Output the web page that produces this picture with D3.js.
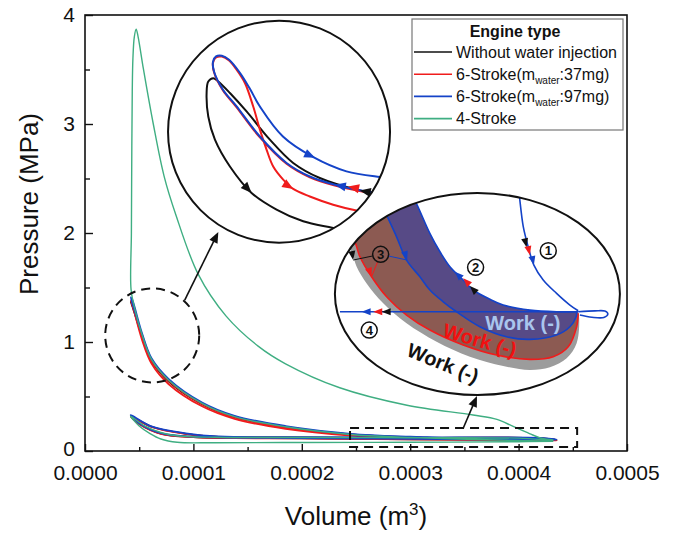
<!DOCTYPE html>
<html>
<head>
<meta charset="utf-8">
<script src="https://cdn.jsdelivr.net/npm/d3@7"></script>
<style>
  body { margin: 0; background: #fff; }
  svg { display: block; font-family: "Liberation Sans", Arial, sans-serif; }
</style>
</head>
<body>
<div id="chart"></div>
<script>
/// DATA (volume in m3, pressure in MPa)

const xTicks = [0, 0.0001, 0.0002, 0.0003, 0.0004, 0.0005]
const xMinorTicks = [0.00005, 0.00015, 0.00025, 0.00035, 0.00045]
const yTicks = [0, 1, 2, 3, 4]
const yMinorTicks = [0.5, 1.5, 2.5, 3.5]

const legendItems = [
  { key: "noWater", text: "Without water injection" },
  { key: "water37", text: "6-Stroke(m", sub: "water", tail: ":37mg)" },
  { key: "water97", text: "6-Stroke(m", sub: "water", tail: ":97mg)" },
  { key: "fourStroke", text: "4-Stroke" },
]

const fourStroke = [
  [4.32e-4, 0.09], [3.6e-4, 0.105], [3.0e-4, 0.125], [2.45e-4, 0.152], [1.85e-4, 0.222],
  [1.38e-4, 0.315], [1.08e-4, 0.437], [7.7e-5, 0.652], [6.15e-5, 0.838], [5.23e-5, 1.078],
  [4.6e-5, 1.3], [4.25e-5, 1.48], [4.28e-5, 2.0], [4.32e-5, 2.8], [4.36e-5, 3.3],
  [4.42e-5, 3.6], [4.55e-5, 3.8], [4.72e-5, 3.87], [4.9e-5, 3.8], [5.38e-5, 3.51],
  [6.3e-5, 3.0], [7.3e-5, 2.52], [8.37e-5, 2.17], [1.045e-4, 1.62], [1.3e-4, 1.24],
  [1.6e-4, 0.96], [1.85e-4, 0.8], [2.35e-4, 0.58], [2.97e-4, 0.42], [3.58e-4, 0.33],
  [3.8e-4, 0.29], [3.95e-4, 0.225], [4.1e-4, 0.16], [4.2e-4, 0.12], [4.32e-4, 0.1],
  [4.0e-4, 0.118], [3.0e-4, 0.122], [2.0e-4, 0.124], [1.2e-4, 0.126], [8.5e-5, 0.14],
  [7.0e-5, 0.17], [5.5e-5, 0.23], [4.2e-5, 0.32], [5.0e-5, 0.23], [6.0e-5, 0.16],
  [7.0e-5, 0.11], [8.5e-5, 0.08], [1.2e-4, 0.076], [2.0e-4, 0.078], [3.0e-4, 0.08],
  [4.0e-4, 0.085], [4.32e-4, 0.09],
]

const noWater = [
  [4.35e-4, 0.1], [3.6e-4, 0.112], [3.0e-4, 0.126], [2.45e-4, 0.152], [1.85e-4, 0.221],
  [1.38e-4, 0.315], [1.08e-4, 0.435], [7.7e-5, 0.65], [6.15e-5, 0.835], [5.23e-5, 1.07],
  [4.6e-5, 1.26], [4.22e-5, 1.37], [4.3e-5, 1.35], [5.23e-5, 1.06], [6.15e-5, 0.825],
  [7.7e-5, 0.64], [1.08e-4, 0.43], [1.38e-4, 0.31], [1.85e-4, 0.216], [2.45e-4, 0.148],
  [3.0e-4, 0.122], [3.6e-4, 0.108], [4.35e-4, 0.1], [4.2e-4, 0.117], [3.0e-4, 0.12],
  [1.85e-4, 0.124], [1.23e-4, 0.13], [9.3e-5, 0.158], [6.2e-5, 0.22], [4.22e-5, 0.32],
  [5.0e-5, 0.25], [7.0e-5, 0.16], [1.0e-4, 0.128], [2.0e-4, 0.116], [3.0e-4, 0.108],
  [4.35e-4, 0.1],
]

const water37 = [
  [4.35e-4, 0.098], [3.6e-4, 0.11], [3.0e-4, 0.124], [2.45e-4, 0.15], [1.85e-4, 0.219],
  [1.38e-4, 0.312], [1.08e-4, 0.432], [7.7e-5, 0.647], [6.15e-5, 0.832], [5.23e-5, 1.068],
  [4.6e-5, 1.26], [4.22e-5, 1.38], [4.4e-5, 1.33], [5.23e-5, 1.03], [6.15e-5, 0.8],
  [7.7e-5, 0.615], [1.08e-4, 0.41], [1.38e-4, 0.295], [1.85e-4, 0.204], [2.45e-4, 0.142],
  [3.0e-4, 0.117], [3.6e-4, 0.104], [4.35e-4, 0.098], [4.2e-4, 0.116], [3.0e-4, 0.119],
  [1.85e-4, 0.123], [1.23e-4, 0.129], [9.3e-5, 0.157], [6.2e-5, 0.219], [4.22e-5, 0.32],
  [5.0e-5, 0.248], [7.0e-5, 0.158], [1.0e-4, 0.127], [2.0e-4, 0.115], [3.0e-4, 0.107],
  [4.35e-4, 0.098],
]

const water97 = [
  [4.35e-4, 0.104], [3.6e-4, 0.116], [3.0e-4, 0.131], [2.45e-4, 0.157], [1.85e-4, 0.227],
  [1.38e-4, 0.321], [1.08e-4, 0.442], [7.7e-5, 0.658], [6.15e-5, 0.843], [5.23e-5, 1.085],
  [4.6e-5, 1.28], [4.22e-5, 1.41], [4.35e-5, 1.39], [5.23e-5, 1.09], [6.15e-5, 0.848],
  [7.7e-5, 0.662], [1.08e-4, 0.445], [1.38e-4, 0.323], [1.85e-4, 0.229], [2.45e-4, 0.158],
  [3.0e-4, 0.131], [3.6e-4, 0.115], [4.35e-4, 0.104], [4.2e-4, 0.12], [3.0e-4, 0.123],
  [1.85e-4, 0.127], [1.23e-4, 0.133], [9.3e-5, 0.162], [6.2e-5, 0.223], [4.22e-5, 0.33],
  [5.0e-5, 0.255], [7.0e-5, 0.163], [1.0e-4, 0.131], [2.0e-4, 0.119], [3.0e-4, 0.111],
  [4.35e-4, 0.104],
]

// zoom markers in the main axes
const zoomCircleCentre = [6.2e-5, 1.06]
const zoomRect = [[2.445e-4, 0.037], [4.54e-4, 0.21]]
const pointerArrows = [
  [[9.2e-5, 1.385], [1.23e-4, 2.01]],
  [[3.49e-4, 0.211], [3.616e-4, 0.505]],
]
const inset1Centre = [1.79e-4, 2.93]
const inset2Centre = [3.62e-4, 1.44]

// inset 1: close-up of the top dead centre
const inset1Domain = { v: [2e-5, 1e-4], p: [0.6, 1.6] }
const inset1Blue = [
  [1.035e-4, 0.812], [9.38e-5, 0.826], [8.01e-5, 0.861], [7.11e-5, 0.898], [6.27e-5, 0.959],
  [5.31e-5, 1.078], [4.45e-5, 1.217], [3.98e-5, 1.289], [3.66e-5, 1.37], [3.62e-5, 1.415],
  [3.73e-5, 1.439], [3.94e-5, 1.442], [4.2e-5, 1.424], [4.59e-5, 1.365], [4.95e-5, 1.293],
  [5.31e-5, 1.213], [6.14e-5, 1.078], [7.22e-5, 0.986], [8.43e-5, 0.921], [9.63e-5, 0.896],
  [1.035e-4, 0.888],
]
const inset1Red = [
  [1.035e-4, 0.808], [9.38e-5, 0.822], [8.01e-5, 0.857], [7.11e-5, 0.894], [6.27e-5, 0.955],
  [5.31e-5, 1.074], [4.45e-5, 1.213], [3.98e-5, 1.285], [3.66e-5, 1.366], [3.62e-5, 1.41],
  [3.73e-5, 1.434], [3.94e-5, 1.438], [4.2e-5, 1.42], [4.47e-5, 1.379], [4.77e-5, 1.319],
  [5.07e-5, 1.213], [5.31e-5, 1.109], [5.55e-5, 1.019], [5.79e-5, 0.943], [6.15e-5, 0.884],
  [6.51e-5, 0.842], [7.11e-5, 0.808], [7.95e-5, 0.771], [8.79e-5, 0.745], [1.035e-4, 0.713],
]
const inset1Black = [
  [1.035e-4, 0.805], [8.91e-5, 0.835], [7.47e-5, 0.891], [6.51e-5, 0.959], [5.67e-5, 1.064],
  [4.83e-5, 1.191], [4.23e-5, 1.274], [3.81e-5, 1.326], [3.63e-5, 1.341], [3.45e-5, 1.326],
  [3.39e-5, 1.274], [3.45e-5, 1.168], [3.69e-5, 1.064], [4.23e-5, 0.943], [5.01e-5, 0.824],
  [5.91e-5, 0.749], [6.87e-5, 0.696], [7.95e-5, 0.666], [9.63e-5, 0.623],
]
const inset1Arrows = [
  { key: "water97", tail: [6.9e-5, 1.005], head: [7.3e-5, 0.982] },
  { key: "water97", tail: [8.5e-5, 0.848], head: [8.01e-5, 0.861] },
  { key: "water37", tail: [8.9e-5, 0.842], head: [8.49e-5, 0.853] },
  { key: "noWater", tail: [9.3e-5, 0.826], head: [8.91e-5, 0.835] },
  { key: "water37", tail: [6.2e-5, 0.866], head: [6.51e-5, 0.842] },
  { key: "noWater", tail: [4.7e-5, 0.865], head: [5.01e-5, 0.824] },
]

// inset 2: close-up of the bottom dead centre
const inset2Domain = { v: [2.4e-4, 4.6e-4], p: [0.03, 0.21] }
const inset2Compression = [
  [4.266e-4, 0.1042], [4.111e-4, 0.1042], [3.905e-4, 0.1057], [3.699e-4, 0.1102], [3.597e-4, 0.1153],
  [3.468e-4, 0.1236], [3.39e-4, 0.1325], [3.288e-4, 0.1443], [3.211e-4, 0.1577], [3.133e-4, 0.1741],
  [3.035e-4, 0.1993], [2.94e-4, 0.2216],
]
const inset2ExpBlue = [
  [2.747e-4, 0.2037], [2.811e-4, 0.1874], [2.876e-4, 0.171], [2.953e-4, 0.1503], [3.056e-4, 0.1354],
  [3.133e-4, 0.1236], [3.236e-4, 0.1131], [3.339e-4, 0.1042], [3.519e-4, 0.0909], [3.725e-4, 0.0819],
  [3.905e-4, 0.0796], [4.111e-4, 0.0835], [4.214e-4, 0.0909], [4.262e-4, 0.0998], [4.266e-4, 0.1042],
]
const inset2ExpRed = [
  [2.477e-4, 0.1815], [2.554e-4, 0.1666], [2.593e-4, 0.1532], [2.683e-4, 0.1354], [2.799e-4, 0.1176],
  [2.953e-4, 0.1013], [3.133e-4, 0.0879], [3.39e-4, 0.0746], [3.648e-4, 0.0656], [3.905e-4, 0.0618],
  [4.085e-4, 0.0641], [4.201e-4, 0.073], [4.266e-4, 0.0909], [4.278e-4, 0.1028],
]
const inset2ExpBlack = [
  [2.439e-4, 0.1752], [2.529e-4, 0.1577], [2.568e-4, 0.1443], [2.645e-4, 0.1295], [2.773e-4, 0.1117],
  [2.953e-4, 0.0939], [3.185e-4, 0.0775], [3.442e-4, 0.0641], [3.699e-4, 0.0558], [3.905e-4, 0.0523],
  [4.06e-4, 0.0547], [4.189e-4, 0.0627], [4.266e-4, 0.0761], [4.286e-4, 0.0968], [4.278e-4, 0.1028],
]
const inset2Power = [
  [3.797e-4, 0.226], [3.813e-4, 0.2171], [3.854e-4, 0.18], [3.892e-4, 0.1621], [3.936e-4, 0.1458],
  [4.008e-4, 0.1325], [4.111e-4, 0.1206], [4.214e-4, 0.1102], [4.278e-4, 0.1051],
]
const inset2Loop = [
  [4.278e-4, 0.1042], [4.407e-4, 0.105], [4.484e-4, 0.1048], [4.507e-4, 0.1022], [4.476e-4, 0.0991],
  [4.384e-4, 0.0993], [4.291e-4, 0.1013],
]
const inset2Exhaust = [[4.278e-4, 0.1042], [3.288e-4, 0.1042], [2.439e-4, 0.1042]]
const inset2Arrows = [
  { key: "noWater", tail: [3.87e-4, 0.1666], head: [3.88e-4, 0.1616] },
  { key: "water37", tail: [3.895e-4, 0.1597], head: [3.905e-4, 0.1547] },
  { key: "water97", tail: [3.926e-4, 0.1508], head: [3.936e-4, 0.1458] },
  { key: "water97", tail: [3.388e-4, 0.1328], head: [3.326e-4, 0.1399] },
  { key: "water37", tail: [3.452e-4, 0.1269], head: [3.39e-4, 0.134] },
  { key: "noWater", tail: [3.504e-4, 0.12], head: [3.442e-4, 0.1271] },
  { key: "water97", tail: [2.935e-4, 0.1583], head: [2.958e-4, 0.1503] },
  { key: "water37", tail: [2.66e-4, 0.1424], head: [2.683e-4, 0.1354] },
  { key: "noWater", tail: [2.53e-4, 0.1583], head: [2.541e-4, 0.1503] },
  { key: "water97", tail: [2.666e-4, 0.1042], head: [2.606e-4, 0.1042] },
  { key: "water37", tail: [2.756e-4, 0.1042], head: [2.696e-4, 0.1042] },
  { key: "noWater", tail: [2.821e-4, 0.1042], head: [2.761e-4, 0.1042] },
]
const strokeLabels = [
  { n: "1", at: [4.047e-4, 0.1586] },
  { n: "2", at: [3.486e-4, 0.1438] },
  { n: "3", at: [2.753e-4, 0.1554] },
  { n: "4", at: [2.665e-4, 0.0879] },
]
const workLabels = [
  { key: "water97", at: [3.851e-4, 0.0942], angle: 0 },
  { key: "water37", at: [3.519e-4, 0.079], angle: 16 },
  { key: "noWater", at: [3.234e-4, 0.0585], angle: 22 },
]

/// STYLE

const colors = {
  noWater: "#111111",
  water37: "#f01c1c",
  water97: "#1443c8",
  fourStroke: "#3fae82",
}
const workFill = { noWater: "#9c9c9c", water37: "#8c5a52", water97: "#574a86" }
const workText = { noWater: "#111111", water37: "#f21010", water97: "#a9c6ee" }

const width = 678
const height = 535
const margins = { top: 15, right: 51, bottom: 84, left: 85 }

const svg = d3
  .select("#chart")
  .append("svg")
  .attr("width", width)
  .attr("height", height)
  .attr("viewBox", [0, 0, width, height])

const defs = svg.append("defs")

/// SCALES

const xScale = d3
  .scaleLinear()
  .domain([0, 0.0005])
  .range([margins.left, width - margins.right])

const yScale = d3
  .scaleLinear()
  .domain([0, 4])
  .range([height - margins.bottom, margins.top])

const curveLine = (sx, sy) =>
  d3
    .line()
    .x((d) => sx(d[0]))
    .y((d) => sy(d[1]))
    .curve(d3.curveCatmullRom.alpha(0.5))

const arrowHead = function (g, sx, sy, a, color, len, half) {
  const x1 = sx(a.tail[0])
  const y1 = sy(a.tail[1])
  const x2 = sx(a.head[0])
  const y2 = sy(a.head[1])
  const ang = Math.atan2(y2 - y1, x2 - x1)
  const bx = x2 - len * Math.cos(ang)
  const by = y2 - len * Math.sin(ang)
  const pts = [
    [x2, y2],
    [bx - half * Math.sin(ang), by + half * Math.cos(ang)],
    [bx + half * Math.sin(ang), by - half * Math.cos(ang)],
  ]
  g.append("path")
    .attr("d", "M" + pts.join("L") + "Z")
    .attr("fill", color)
}

/// AXES

const bounds = svg.append("g")

const xAxisGenerator = d3
  .axisBottom(xScale)
  .tickValues(xTicks)
  .tickFormat(d3.format(".4f"))
  .tickSizeInner(-7)
  .tickSizeOuter(0)
  .tickPadding(14)

const yAxisGenerator = d3
  .axisLeft(yScale)
  .tickValues(yTicks)
  .tickFormat(d3.format("d"))
  .tickSizeInner(-8)
  .tickSizeOuter(0)
  .tickPadding(10)

bounds
  .append("g")
  .attr("transform", `translate(0, ${height - margins.bottom})`)
  .call(xAxisGenerator)
  .call((g) => g.select(".domain").remove())
  .style("font-size", "21px")
  .style("font-family", "Liberation Sans, Arial, sans-serif")
  .style("color", "#111")
  .selectAll("line")
  .attr("stroke-width", 1.4)

bounds
  .append("g")
  .attr("transform", `translate(0, ${height - margins.bottom})`)
  .call(d3.axisBottom(xScale).tickValues(xMinorTicks).tickFormat("").tickSizeInner(-4).tickSizeOuter(0))
  .call((g) => g.select(".domain").remove())
  .selectAll("line")
  .attr("stroke", "#111")
  .attr("stroke-width", 1.4)

bounds
  .append("g")
  .attr("transform", `translate(${margins.left}, 0)`)
  .call(yAxisGenerator)
  .call((g) => g.select(".domain").remove())
  .style("font-size", "21px")
  .style("font-family", "Liberation Sans, Arial, sans-serif")
  .style("color", "#111")
  .call((g) => g.selectAll("text").attr("dy", (d) => (d === 0 ? "0.2em" : "0.32em")))
  .selectAll("line")
  .attr("stroke-width", 1.4)

bounds
  .append("g")
  .attr("transform", `translate(${margins.left}, 0)`)
  .call(d3.axisLeft(yScale).tickValues(yMinorTicks).tickFormat("").tickSizeInner(-5).tickSizeOuter(0))
  .call((g) => g.select(".domain").remove())
  .selectAll("line")
  .attr("stroke", "#111")
  .attr("stroke-width", 1.4)

bounds
  .append("rect")
  .attr("x", xScale(0))
  .attr("y", yScale(4))
  .attr("width", xScale(0.0005) - xScale(0))
  .attr("height", yScale(0) - yScale(4))
  .attr("fill", "none")
  .attr("stroke", "#111")
  .attr("stroke-width", 1.6)

svg
  .append("text")
  .attr("transform", `translate(38, 204) rotate(-90)`)
  .attr("text-anchor", "middle")
  .style("font-size", "26px")
  .style("fill", "#111")
  .text("Pressure (MPa)")

const xTitle = svg
  .append("text")
  .attr("x", (xScale(0) + xScale(0.0005)) / 2)
  .attr("y", 525)
  .attr("text-anchor", "middle")
  .style("font-size", "26px")
  .style("fill", "#111")
xTitle.append("tspan").text("Volume (m")
xTitle.append("tspan").attr("dy", -10).style("font-size", "17px").text("3")
xTitle.append("tspan").attr("dy", 10).text(")")

/// MAIN CURVES

const mainLine = curveLine(xScale, yScale)
const mainSeries = [
  { key: "noWater", values: noWater },
  { key: "water37", values: water37 },
  { key: "water97", values: water97 },
  { key: "fourStroke", values: fourStroke },
]

bounds
  .selectAll(".main-curve")
  .data(mainSeries)
  .join("path")
  .attr("class", "main-curve")
  .attr("d", (d) => mainLine(d.values))
  .attr("fill", "none")
  .attr("stroke", (d) => colors[d.key])
  .attr("stroke-width", (d) => (d.key === "fourStroke" ? 1.4 : 1.8))
  .attr("stroke-linejoin", "round")

/// ZOOM MARKERS

bounds
  .append("circle")
  .attr("cx", xScale(zoomCircleCentre[0]))
  .attr("cy", yScale(zoomCircleCentre[1]))
  .attr("r", 47)
  .attr("fill", "none")
  .attr("stroke", "#111")
  .attr("stroke-width", 2)
  .attr("stroke-dasharray", "9,6")

bounds
  .append("rect")
  .attr("x", xScale(zoomRect[0][0]))
  .attr("y", yScale(zoomRect[1][1]))
  .attr("width", xScale(zoomRect[1][0]) - xScale(zoomRect[0][0]))
  .attr("height", yScale(zoomRect[0][1]) - yScale(zoomRect[1][1]))
  .attr("fill", "none")
  .attr("stroke", "#111")
  .attr("stroke-width", 2)
  .attr("stroke-dasharray", "9,6")

pointerArrows.forEach((a) => {
  const x1 = xScale(a[0][0])
  const y1 = yScale(a[0][1])
  const x2 = xScale(a[1][0])
  const y2 = yScale(a[1][1])
  const ang = Math.atan2(y2 - y1, x2 - x1)
  bounds
    .append("line")
    .attr("x1", x1)
    .attr("y1", y1)
    .attr("x2", x2 - 8 * Math.cos(ang))
    .attr("y2", y2 - 8 * Math.sin(ang))
    .attr("stroke", "#111")
    .attr("stroke-width", 1.6)
  arrowHead(bounds, xScale, yScale, { tail: a[0], head: a[1] }, "#111", 11, 4.5)
})

/// INSET 1 (circle)

const c1 = { cx: xScale(inset1Centre[0]), cy: yScale(inset1Centre[1]), r: 111 }
const ix1 = d3.scaleLinear().domain(inset1Domain.v).range([c1.cx - c1.r, c1.cx + c1.r])
const iy1 = d3.scaleLinear().domain(inset1Domain.p).range([c1.cy + c1.r, c1.cy - c1.r])
const inset1Line = curveLine(ix1, iy1)

defs
  .append("clipPath")
  .attr("id", "clip-inset1")
  .append("circle")
  .attr("cx", c1.cx)
  .attr("cy", c1.cy)
  .attr("r", c1.r)

svg
  .append("circle")
  .attr("cx", c1.cx)
  .attr("cy", c1.cy)
  .attr("r", c1.r)
  .attr("fill", "#fff")

const inset1 = svg.append("g").attr("clip-path", "url(#clip-inset1)")

const inset1Series = [
  { key: "noWater", values: inset1Black },
  { key: "water37", values: inset1Red },
  { key: "water97", values: inset1Blue },
]

inset1
  .selectAll("path.loop")
  .data(inset1Series)
  .join("path")
  .attr("class", "loop")
  .attr("d", (d) => inset1Line(d.values))
  .attr("fill", "none")
  .attr("stroke", (d) => colors[d.key])
  .attr("stroke-width", 2)

inset1Arrows.forEach((a) => arrowHead(inset1, ix1, iy1, a, colors[a.key], 11, 4.5))

svg
  .append("circle")
  .attr("cx", c1.cx)
  .attr("cy", c1.cy)
  .attr("r", c1.r)
  .attr("fill", "none")
  .attr("stroke", "#111")
  .attr("stroke-width", 2)

/// INSET 2 (ellipse)

const c2 = { cx: xScale(inset2Centre[0]), cy: yScale(inset2Centre[1]), rx: 142.5, ry: 101 }
const ix2 = d3.scaleLinear().domain(inset2Domain.v).range([c2.cx - c2.rx, c2.cx + c2.rx])
const iy2 = d3.scaleLinear().domain(inset2Domain.p).range([c2.cy + c2.ry, c2.cy - c2.ry])
const inset2Line = curveLine(ix2, iy2)

defs
  .append("clipPath")
  .attr("id", "clip-inset2")
  .append("ellipse")
  .attr("cx", c2.cx)
  .attr("cy", c2.cy)
  .attr("rx", c2.rx)
  .attr("ry", c2.ry)

svg
  .append("ellipse")
  .attr("cx", c2.cx)
  .attr("cy", c2.cy)
  .attr("rx", c2.rx)
  .attr("ry", c2.ry)
  .attr("fill", "#fff")

const inset2 = svg.append("g").attr("clip-path", "url(#clip-inset2)")

const workAreas = [
  { key: "noWater", values: inset2ExpBlack.concat(inset2Compression) },
  { key: "water37", values: inset2ExpRed.concat(inset2Compression) },
  { key: "water97", values: inset2ExpBlue.concat(inset2Compression) },
]

inset2
  .selectAll("path.work")
  .data(workAreas)
  .join("path")
  .attr("class", "work")
  .attr("d", (d) => inset2Line(d.values) + "Z")
  .attr("fill", (d) => workFill[d.key])

const inset2Curves = [
  { key: "water37", values: inset2ExpRed },
  { key: "water97", values: inset2ExpBlue },
  { key: "water97", values: inset2Compression },
  { key: "water97", values: inset2Power },
  { key: "water97", values: inset2Loop },
  { key: "water97", values: inset2Exhaust },
]

inset2
  .selectAll("path.curve")
  .data(inset2Curves)
  .join("path")
  .attr("class", "curve")
  .attr("d", (d) => inset2Line(d.values))
  .attr("fill", "none")
  .attr("stroke", (d) => colors[d.key])
  .attr("stroke-width", 1.6)

// leader lines from label 3 to its arrows
const label3 = strokeLabels.find((d) => d.n === "3")
inset2Arrows
  .filter((a) => a.head[1] > 0.13 && a.head[0] < 3.0e-4)
  .forEach((a) => {
    const x1 = ix2(label3.at[0])
    const y1 = iy2(label3.at[1])
    const x2 = ix2(a.head[0])
    const y2 = iy2(a.head[1])
    const ang = Math.atan2(y2 - y1, x2 - x1)
    inset2
      .append("line")
      .attr("x1", x1 + 8 * Math.cos(ang))
      .attr("y1", y1 + 8 * Math.sin(ang))
      .attr("x2", x2)
      .attr("y2", y2)
      .attr("stroke", colors[a.key])
      .attr("stroke-width", 1)
  })

inset2Arrows.forEach((a) => arrowHead(inset2, ix2, iy2, a, colors[a.key], 9, 3.5))

const numGroups = inset2
  .selectAll("g.num")
  .data(strokeLabels)
  .join("g")
  .attr("class", "num")
  .attr("transform", (d) => `translate(${ix2(d.at[0])}, ${iy2(d.at[1])})`)

numGroups
  .append("circle")
  .attr("r", 8)
  .attr("fill", "none")
  .attr("stroke", "#111")
  .attr("stroke-width", 1.5)

numGroups
  .append("text")
  .attr("text-anchor", "middle")
  .attr("dy", "0.36em")
  .style("font-size", "13px")
  .style("font-weight", "bold")
  .style("fill", "#111")
  .text((d) => d.n)

inset2
  .selectAll("text.work")
  .data(workLabels)
  .join("text")
  .attr("class", "work")
  .attr("text-anchor", "middle")
  .attr("dy", "0.35em")
  .attr("transform", (d) => `translate(${ix2(d.at[0])}, ${iy2(d.at[1])}) rotate(${d.angle})`)
  .style("font-size", "20px")
  .style("font-weight", "bold")
  .style("fill", (d) => workText[d.key])
  .text("Work (-)")

svg
  .append("ellipse")
  .attr("cx", c2.cx)
  .attr("cy", c2.cy)
  .attr("rx", c2.rx)
  .attr("ry", c2.ry)
  .attr("fill", "none")
  .attr("stroke", "#111")
  .attr("stroke-width", 2)

/// LEGEND

const legend = svg.append("g").attr("transform", "translate(412, 19)")

legend
  .append("rect")
  .attr("width", 211)
  .attr("height", 111)
  .attr("fill", "#fff")
  .attr("stroke", "#777")
  .attr("stroke-width", 1.2)

legend
  .append("text")
  .attr("x", 103)
  .attr("y", 18)
  .attr("text-anchor", "middle")
  .style("font-size", "16px")
  .style("font-weight", "bold")
  .style("fill", "#111")
  .text("Engine type")

const legendRows = legend
  .selectAll("g.row")
  .data(legendItems)
  .join("g")
  .attr("class", "row")
  .attr("transform", (d, i) => `translate(0, ${33 + i * 22.2})`)

legendRows
  .append("line")
  .attr("x1", 2)
  .attr("x2", 40)
  .attr("stroke", (d) => colors[d.key])
  .attr("stroke-width", 1.6)

const legendText = legendRows
  .append("text")
  .attr("x", 44)
  .attr("dy", "0.36em")
  .style("font-size", "16px")
  .style("fill", "#111")

legendText.append("tspan").text((d) => d.text)
legendText
  .filter((d) => d.sub)
  .append("tspan")
  .attr("dy", 4)
  .style("font-size", "10px")
  .text((d) => d.sub)
legendText
  .filter((d) => d.sub)
  .append("tspan")
  .attr("dy", -4)
  .text((d) => d.tail)
</script>
</body>
</html>
